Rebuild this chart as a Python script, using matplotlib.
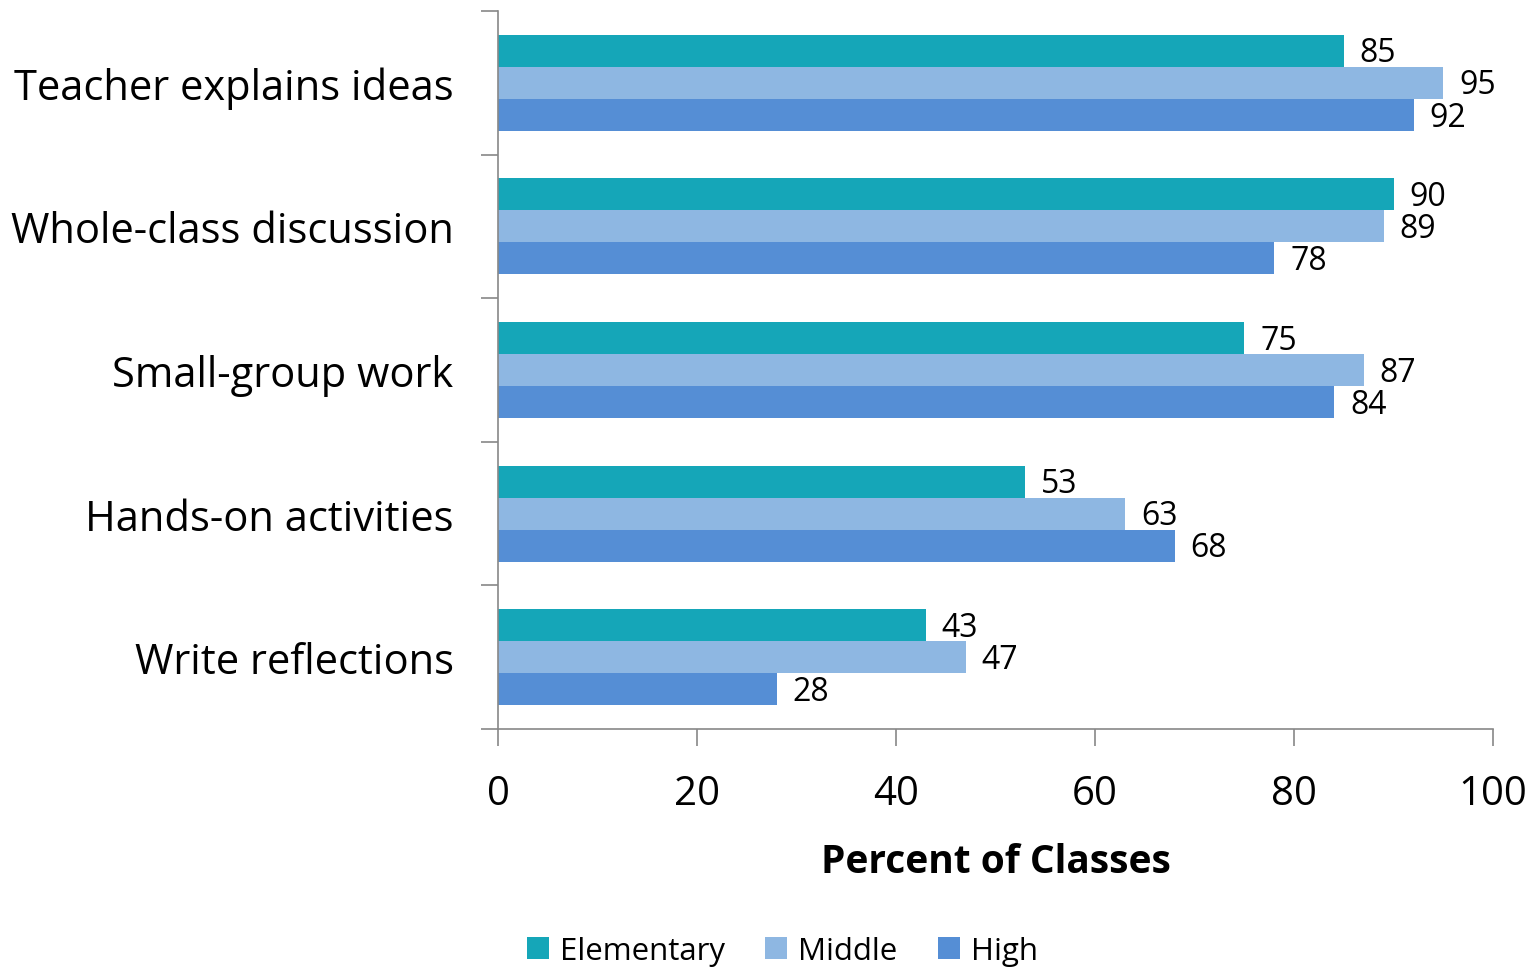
import numpy as np
import matplotlib.pyplot as plt

plt.rcParams['font.family'] = ['Open Sans', 'DejaVu Sans']

categories = ['Teacher explains ideas', 'Whole-class discussion', 'Small-group work',
              'Hands-on activities', 'Write reflections']
series_names = ['Elementary', 'Middle', 'High']
elementary = [85, 90, 75, 53, 43]
middle = [95, 89, 87, 63, 47]
high = [92, 78, 84, 68, 28]
colors = ['#15A6B8', '#8EB7E2', '#558ED5']

fig = plt.figure(figsize=(15.37, 9.70), dpi=100)
ax = fig.add_axes([0.324, 0.2474, 0.6475, 0.7402])

y = np.arange(len(categories))
bh = 0.223
for i, (vals, name, c) in enumerate(zip([elementary, middle, high], series_names, colors)):
    pos = y + (i - 1) * bh
    ax.barh(pos, vals, height=bh, color=c, label=name)
    for p, v in zip(pos, vals):
        ax.text(v + 1.6, p + 0.015, str(v), va='center', ha='left', fontsize=23)

ax.set_ylim(len(categories) - 0.5, -0.5)
ax.set_xlim(0, 100)
ax.set_xticks([0, 20, 40, 60, 80, 100])
ax.tick_params(axis='x', labelsize=29, length=12, color='#888888', width=1.2, pad=20)
ax.set_yticks(np.arange(-0.5, len(categories), 1.0))
ax.set_yticklabels([])
ax.set_yticks(y, minor=True)
ax.set_yticklabels(categories, minor=True, fontsize=30)
ax.tick_params(axis='y', which='major', length=12, color='#888888', width=1.2)
ax.tick_params(axis='y', which='minor', length=0, pad=32)
for s in ['top', 'right']:
    ax.spines[s].set_visible(False)
for s in ['left', 'bottom']:
    ax.spines[s].set_color('#888888')
    ax.spines[s].set_linewidth(1.2)

ax.set_xlabel('Percent of Classes', fontsize=28, fontweight='bold', labelpad=20)

fig.legend(loc='lower center', bbox_to_anchor=(0.509, -0.026), ncol=3, frameon=False,
           fontsize=22.5, handlelength=0.7, handleheight=0.7, handletextpad=0.35, columnspacing=1.3)

fig.savefig('out.png', dpi=100)
